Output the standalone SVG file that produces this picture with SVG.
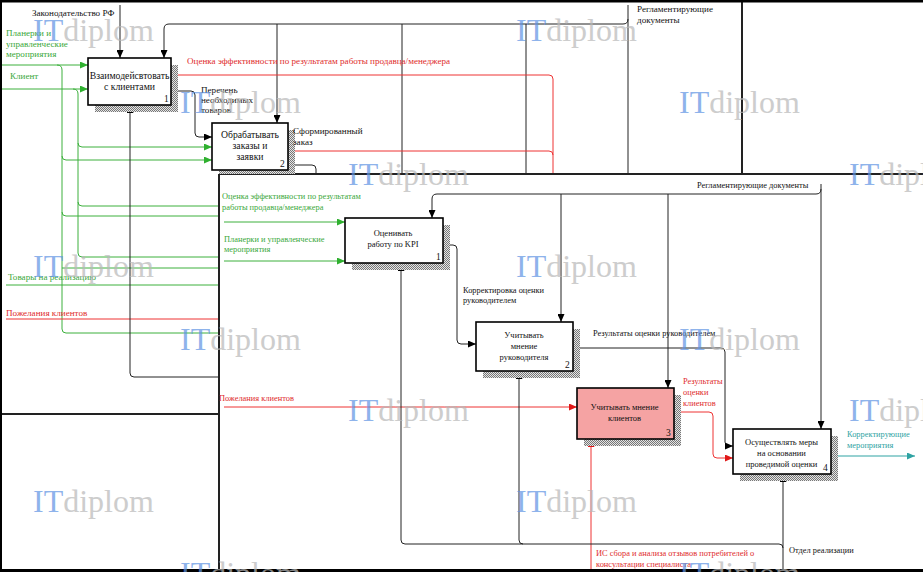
<svg xmlns="http://www.w3.org/2000/svg" width="923" height="572" viewBox="0 0 923 572">
<style>
text{font-family:"Liberation Serif","Times New Roman",serif;}
.lbl{font-size:9.1px;fill:#111;}
.il{font-size:8.4px;fill:#111;}
.bt{font-size:9.7px;fill:#111;text-anchor:middle;}
.ib{font-size:8.5px;fill:#111;text-anchor:middle;}
.num{font-size:9.5px;fill:#111;}
.g{fill:#3aa83a;}
.r{fill:#e02c2c;}
.t{fill:#2fa3a3;}
.ln{fill:none;stroke:#222;stroke-width:1;}
.lg{fill:none;stroke:#3cb03c;stroke-width:1;}
.lr{fill:none;stroke:#e33;stroke-width:1;}
.lt{fill:none;stroke:#2fa3a3;stroke-width:1;}
.frm{fill:none;stroke:#222;stroke-width:2;}
.box{fill:#fff;stroke:#000;stroke-width:1.6;}
.shd{fill:url(#hatch);}
.wm{font-size:32px;opacity:0.7;}
.wi{fill:#5f93e3;}
.wd{fill:#b8b8b8;}
</style>
<defs>
<pattern id="hatch" width="2" height="2" patternUnits="userSpaceOnUse">
<rect width="2" height="2" fill="#e4e4e4"/>
<rect width="1" height="1" fill="#777"/>
<rect x="1" y="1" width="1" height="1" fill="#777"/>
</pattern>
<marker id="aB" viewBox="0 0 8 7" refX="8" refY="3.5" markerWidth="8" markerHeight="7" markerUnits="userSpaceOnUse" orient="auto"><path d="M0,0 L8,3.5 L0,7z" fill="#000"/></marker>
<marker id="aG" viewBox="0 0 8 7" refX="8" refY="3.5" markerWidth="8" markerHeight="7" markerUnits="userSpaceOnUse" orient="auto"><path d="M0,0 L8,3.5 L0,7z" fill="#2fb02f"/></marker>
<marker id="aR" viewBox="0 0 8 7" refX="8" refY="3.5" markerWidth="8" markerHeight="7" markerUnits="userSpaceOnUse" orient="auto"><path d="M0,0 L8,3.5 L0,7z" fill="#e01818"/></marker>
<marker id="aT" viewBox="0 0 8 7" refX="8" refY="3.5" markerWidth="8" markerHeight="7" markerUnits="userSpaceOnUse" orient="auto"><path d="M0,0 L8,3.5 L0,7z" fill="#2fa3a3"/></marker>
</defs>
<rect width="923" height="572" fill="#fff"/>

<g id="connectors">
<!-- upper (parent) diagram -->
<path class="ln" d="M120,5 V58" marker-end="url(#aB)"/>
<path class="ln" d="M628,5 V174"/>
<path class="ln" d="M628,19 Q628,24 623,24 H169 Q164,24 164,29 V58" marker-end="url(#aB)"/>
<path class="ln" d="M277,24 V123" marker-end="url(#aB)"/>
<path class="ln" d="M402,24 V174"/>
<path class="ln" d="M526,24 V174"/>
<path class="lr" d="M171,75 H549 Q553,75 553,79 V174"/>
<path class="lr" d="M288,151 H549 Q553,151 553,155"/>
<path class="ln" d="M171,91 H191 Q195,91 195,95 V133 Q195,137 199,137 H212" marker-end="url(#aB)"/>
<path class="ln" d="M288,165 H312 Q316,165 316,169 V174"/>
<path class="lg" d="M0,65 H88" marker-end="url(#aG)"/>
<path class="lg" d="M0,89 H88" marker-end="url(#aG)"/>
<path class="lg" d="M57,65 Q62,65 62,70 V329 Q62,333 66,333 H219"/>
<path class="lg" d="M62,156 Q62,160 66,160 H212" marker-end="url(#aG)"/>
<path class="lg" d="M62,212 Q62,216 66,216 H219"/>
<path class="lg" d="M62,268 H219"/>
<path class="lg" d="M73,89 Q78,89 78,94 V253 Q78,257 82,257 H219"/>
<path class="lg" d="M78,143 Q78,147 82,147 H212" marker-end="url(#aG)"/>
<path class="lg" d="M78,202 Q78,206 82,206 H219"/>
<path class="lg" d="M6,285 H219"/>
<path class="lr" d="M6,319 H219"/>
<path class="ln" d="M219,377 H134 Q130,377 130,373 V105" marker-end="url(#aB)"/>
<path d="M247,174 L253,174 L250,170z" fill="#000"/>
<!-- inner (decomposition) diagram -->
<path class="lg" d="M224,222 H345" marker-end="url(#aG)"/>
<path class="lg" d="M224,261 H345" marker-end="url(#aG)"/>
<path class="ln" d="M821,184 V429" marker-end="url(#aB)"/>
<path class="ln" d="M821,189 Q821,194 816,194 H437 Q432,194 432,199 V218" marker-end="url(#aB)"/>
<path class="ln" d="M561,194 V322" marker-end="url(#aB)"/>
<path class="ln" d="M668,194 V388" marker-end="url(#aB)"/>
<path class="ln" d="M443,245 H453 Q457,245 457,249 V340 Q457,344 461,344 H476" marker-end="url(#aB)"/>
<path class="ln" d="M573,348 H721 Q725,348 725,352 V442 Q725,446 729,446 H733" marker-end="url(#aB)"/>
<path class="lr" d="M224,407 H577" marker-end="url(#aR)"/>
<path class="lr" d="M674,412 H709 Q713,412 713,416 V454 Q713,458 717,458 H733" marker-end="url(#aR)"/>
<path class="lr" d="M591,572 V439" marker-end="url(#aR)"/>
<path class="lt" d="M831,456 H915" marker-end="url(#aT)"/>
<path class="ln" d="M783,572 V474" marker-end="url(#aB)"/>
<path class="ln" d="M783,548 Q783,544 779,544 H523 Q519,544 519,540 V371" marker-end="url(#aB)"/>
<path class="ln" d="M523,544 H405 Q401,544 401,540 V263" marker-end="url(#aB)"/>
</g>

<g id="frames">
<path class="frm" d="M742,0 V174"/>
<path class="frm" d="M219,174 H923"/>
<path class="frm" d="M219,174 V572"/>
<path class="frm" d="M0,414 H219"/>
<rect x="0" y="0" width="923" height="2.5" fill="#000"/>
<rect x="0" y="0" width="2" height="572" fill="#000"/>
<rect x="0" y="569" width="923" height="3" fill="#000"/>
</g>

<g id="p1">
<rect class="shd" x="95" y="65" width="83" height="47"/>
<rect class="box" x="88" y="58" width="83" height="47"/>
<text class="bt" x="129.5" y="79">Взаимодейсвтовать</text>
<text class="bt" x="129.5" y="90">с клиентами</text>
<text class="num" x="164" y="102">1</text>
</g>
<g id="p2">
<rect class="shd" x="219" y="130" width="76" height="44"/>
<rect class="box" x="212" y="123" width="76" height="47"/>
<text class="bt" x="250" y="138">Обрабатывать</text>
<text class="bt" x="250" y="149">заказы и</text>
<text class="bt" x="250" y="160">заявки</text>
<text class="num" x="280" y="167">2</text>
</g>

<g id="n1">
<rect class="shd" x="352" y="225" width="98" height="45"/>
<rect class="box" x="345" y="218" width="98" height="45"/>
<text class="ib" x="393" y="236">Оценивать</text>
<text class="ib" x="393" y="247">работу по KPI</text>
<text class="num" x="436" y="260">1</text>
</g>
<g id="n2">
<rect class="shd" x="483" y="329" width="97" height="49"/>
<rect class="box" x="476" y="322" width="97" height="49"/>
<text class="ib" x="524" y="338">Учитывать</text>
<text class="ib" x="524" y="349">мнение</text>
<text class="ib" x="524" y="360">руководителя</text>
<text class="num" x="565" y="368">2</text>
</g>
<g id="n3">
<rect class="shd" x="584" y="395" width="97" height="51"/>
<rect class="box" x="577" y="388" width="97" height="51" style="fill:#f5a3a3"/>
<text class="ib" x="624.5" y="410">Учитывать мнение</text>
<text class="ib" x="624.5" y="421">клиентов</text>
<text class="num" x="666" y="436">3</text>
</g>
<g id="n4">
<rect class="shd" x="740" y="436" width="98" height="45"/>
<rect class="box" x="733" y="429" width="98" height="45"/>
<text class="ib" x="781.5" y="445">Осуществлять меры</text>
<text class="ib" x="781.5" y="456">на основании</text>
<text class="ib" x="781.5" y="467">проведимой оценки</text>
<text class="num" x="823" y="471">4</text>
</g>

<g id="labels">
<text class="lbl" x="32" y="16">Законодательство РФ</text>
<text class="lbl" x="637" y="12">Регламентирующие</text>
<text class="lbl" x="637" y="23">документы</text>
<text class="lbl g" x="6" y="36">Планерки и</text>
<text class="lbl g" x="6" y="46.5">управленческие</text>
<text class="lbl g" x="6" y="57">мероприятия</text>
<text class="lbl g" x="10" y="79">Клиент</text>
<text class="lbl r" x="187" y="64">Оценка эффективности по результатам работы продавца/менеджера</text>
<text class="lbl" x="201" y="93">Перечень</text>
<text class="lbl" x="201" y="103">необходимых</text>
<text class="lbl" x="201" y="113">товаров</text>
<text class="lbl" x="293" y="134">Сформированный</text>
<text class="lbl" x="293" y="145">заказ</text>
<text class="lbl g" x="8" y="280">Товары на реализацию</text>
<text class="lbl r" x="6" y="316">Пожелания клиентов</text>
<text class="il g" x="222" y="199">Оценка эффективности по результатам</text>
<text class="il g" x="222" y="210">работы продавца/менеджера</text>
<text class="il g" x="224" y="242">Планерки и управленческие</text>
<text class="il g" x="224" y="252">мероприятия</text>
<text class="il" x="697" y="188">Регламентирующие документы</text>
<text class="il" x="463" y="293">Корректировка оценки</text>
<text class="il" x="463" y="303">руководителем</text>
<text class="il" x="593" y="336">Результаты оценки руководителем</text>
<text class="il r" x="219" y="401">Пожелания клиентов</text>
<text class="il r" x="683" y="384">Результаты</text>
<text class="il r" x="683" y="395">оценки</text>
<text class="il r" x="683" y="406">клиентов</text>
<text class="il t" x="847" y="437">Корректирующие</text>
<text class="il t" x="847" y="448">мероприятия</text>
<text class="il" x="789" y="553">Отдел реализации</text>
<text class="il r" x="596" y="556">ИС сбора и анализа отзывов потребителей о</text>
<text class="il r" x="596" y="567">консультации специалиста</text>
</g>

<g id="watermarks">
<text class="wm" x="33" y="41"><tspan class="wi">IT</tspan><tspan class="wd">diplom</tspan></text>
<text class="wm" x="516" y="41"><tspan class="wi">IT</tspan><tspan class="wd">diplom</tspan></text>
<text class="wm" x="180" y="113"><tspan class="wi">IT</tspan><tspan class="wd">diplom</tspan></text>
<text class="wm" x="679" y="113"><tspan class="wi">IT</tspan><tspan class="wd">diplom</tspan></text>
<text class="wm" x="348" y="185"><tspan class="wi">IT</tspan><tspan class="wd">diplom</tspan></text>
<text class="wm" x="849" y="185"><tspan class="wi">IT</tspan><tspan class="wd">diplom</tspan></text>
<text class="wm" x="33" y="277"><tspan class="wi">IT</tspan><tspan class="wd">diplom</tspan></text>
<text class="wm" x="516" y="277"><tspan class="wi">IT</tspan><tspan class="wd">diplom</tspan></text>
<text class="wm" x="180" y="350"><tspan class="wi">IT</tspan><tspan class="wd">diplom</tspan></text>
<text class="wm" x="679" y="350"><tspan class="wi">IT</tspan><tspan class="wd">diplom</tspan></text>
<text class="wm" x="348" y="421"><tspan class="wi">IT</tspan><tspan class="wd">diplom</tspan></text>
<text class="wm" x="849" y="421"><tspan class="wi">IT</tspan><tspan class="wd">diplom</tspan></text>
<text class="wm" x="33" y="512"><tspan class="wi">IT</tspan><tspan class="wd">diplom</tspan></text>
<text class="wm" x="516" y="512"><tspan class="wi">IT</tspan><tspan class="wd">diplom</tspan></text>
<text class="wm" x="180" y="584"><tspan class="wi">IT</tspan><tspan class="wd">diplom</tspan></text>
<text class="wm" x="679" y="584"><tspan class="wi">IT</tspan><tspan class="wd">diplom</tspan></text>
</g>
</svg>
